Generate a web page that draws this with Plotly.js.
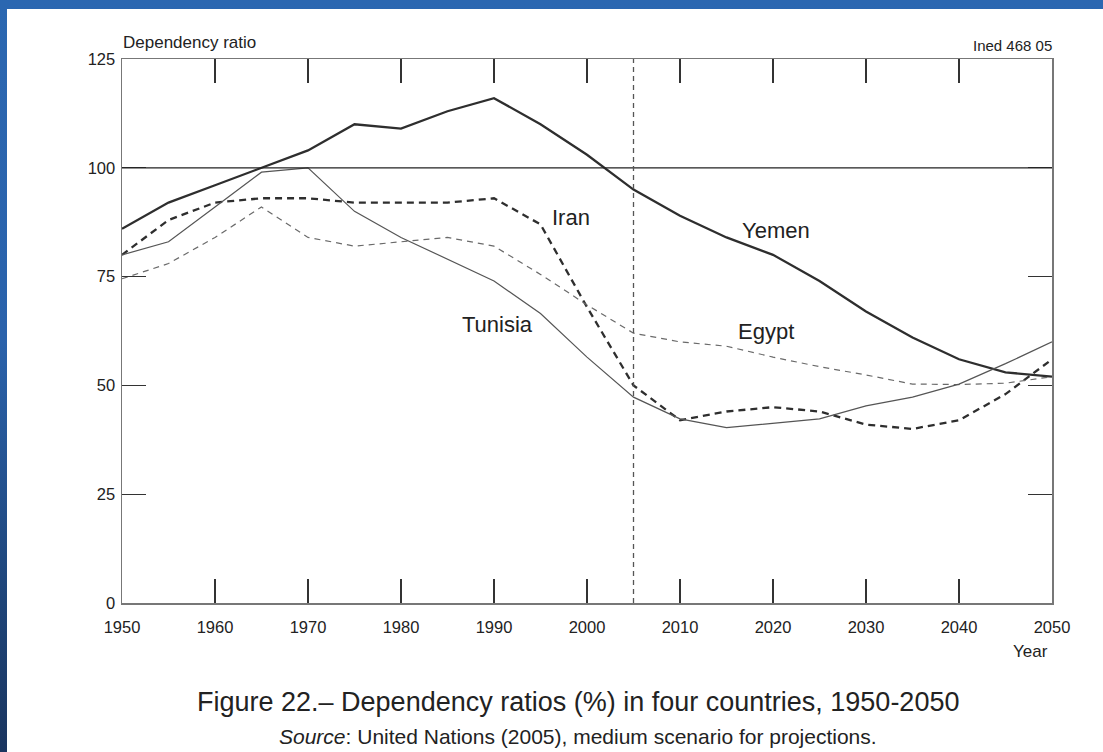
<!DOCTYPE html>
<html>
<head>
<meta charset="utf-8">
<script src="https://cdn.plot.ly/plotly-3.0.1.min.js"></script>
<style>
  html, body { margin: 0; padding: 0; width: 1103px; height: 752px; overflow: hidden; }
  body { background: linear-gradient(to bottom, #2b67b1 0%, #2a62ab 45%, #1e4478 80%, #1a355f 100%); position: relative; }
  #chart { position: absolute; left: 7px; top: 9px; width: 1096px; height: 743px; background: #fff; }
</style>
</head>
<body>
<div id="chart"></div>
<script>
const years = [1950,1955,1960,1965,1970,1975,1980,1985,1990,1995,2000,2005,2010,2015,2020,2025,2030,2035,2040,2045,2050];
const yemen   = [86,92,96,100,104,110,109,113,116,110,103,95,89,84,80,74,67,61,56,53,52];
const iran    = [80,88,92,93,93,92,92,92,93,87,68,50,42,44,45,44,41,40,42,48,56];
const egypt   = [74.5,78,84,91,84,82,83,84,82,75.5,68.5,62,60,59,56.5,54.3,52.4,50.3,50.2,50.5,52];
const tunisia = [80,83,91,99,100,90,84,79,74,66.5,56.5,47.3,42.3,40.3,41.3,42.3,45.3,47.3,50.3,55,60];
const xTicks = [1950,1960,1970,1980,1990,2000,2010,2020,2030,2040,2050];
const yTicks = [0,25,50,75,100,125];
const projectionYear = 2005;
const refLevel = 100;

const FONT = '"Liberation Sans", Arial, Helvetica, sans-serif';

const traces = [
  {x: years, y: yemen, mode: 'lines', name: 'Yemen', line: {color: '#2e2e2e', width: 2.3}},
  {x: years, y: iran, mode: 'lines', name: 'Iran', line: {color: '#2e2e2e', width: 2.3, dash: '7px,5px'}},
  {x: years, y: egypt, mode: 'lines', name: 'Egypt', line: {color: '#6a6a6a', width: 1.2, dash: '6px,5px'}},
  {x: years, y: tunisia, mode: 'lines', name: 'Tunisia', line: {color: '#555', width: 1.2}}
];

const axisCommon = {
  showline: true, linecolor: '#777', linewidth: 1.5, mirror: 'ticks',
  ticks: 'inside', ticklen: 24, tickwidth: 1.3, tickcolor: '#333',
  showgrid: false, zeroline: false, fixedrange: true,
  tickfont: {family: FONT, size: 16.5, color: '#222'}
};

const layout = {
  width: 1096, height: 743,
  margin: {l: 114.7, r: 51.3, t: 50, b: 149},
  paper_bgcolor: '#ffffff', plot_bgcolor: '#ffffff',
  showlegend: false,
  xaxis: Object.assign({}, axisCommon, {range: [1950, 2050], autorange: false, tickvals: xTicks, ticklabelstandoff: 9}),
  yaxis: Object.assign({}, axisCommon, {range: [0, 125], autorange: false, tickvals: yTicks, ticklabelstandoff: 2}),
  shapes: [
    {type: 'line', xref: 'paper', x0: 0, x1: 1, yref: 'y', y0: refLevel, y1: refLevel, line: {color: '#222', width: 1.2}},
    {type: 'line', xref: 'x', x0: projectionYear, x1: projectionYear, yref: 'paper', y0: 0, y1: 1, line: {color: '#555', width: 1.3, dash: '5px,4px'}}
  ],
  annotations: [
    {text: 'Iran', x: 1998.3, y: 88.5, xref: 'x', yref: 'y', showarrow: false, font: {family: FONT, size: 22, color: '#222'}},
    {text: 'Yemen', x: 2020.3, y: 85.5, xref: 'x', yref: 'y', showarrow: false, font: {family: FONT, size: 22, color: '#222'}},
    {text: 'Egypt', x: 2019.2, y: 62.3, xref: 'x', yref: 'y', showarrow: false, font: {family: FONT, size: 22, color: '#222'}},
    {text: 'Tunisia', x: 1990.4, y: 63.9, xref: 'x', yref: 'y', showarrow: false, font: {family: FONT, size: 22, color: '#222'}},
    {text: 'Dependency ratio', x: 0, xanchor: 'left', xshift: -1, y: 1.031, yanchor: 'middle', xref: 'paper', yref: 'paper', showarrow: false, font: {family: FONT, size: 17, color: '#222'}},
    {text: 'Ined 468 05', x: 1, xanchor: 'right', xshift: 2, y: 1.0257, yanchor: 'middle', xref: 'paper', yref: 'paper', showarrow: false, font: {family: FONT, size: 15, color: '#222'}},
    {text: 'Year', x: 0.9774, xanchor: 'center', y: -0.0895, yanchor: 'middle', xref: 'paper', yref: 'paper', showarrow: false, font: {family: FONT, size: 17, color: '#222'}},
    {text: 'Figure 22.– Dependency ratios (%) in four countries, 1950-2050', x: 0.4906, xanchor: 'center', y: -0.1814, yanchor: 'middle', xref: 'paper', yref: 'paper', showarrow: false, font: {family: FONT, size: 27, color: '#222'}},
    {text: '<i>Source</i>: United Nations (2005), medium scenario for projections.', x: 0.4901, xanchor: 'center', y: -0.2458, yanchor: 'middle', xref: 'paper', yref: 'paper', showarrow: false, font: {family: FONT, size: 21, color: '#222'}}
  ]
};

Plotly.newPlot('chart', traces, layout, {displayModeBar: false, staticPlot: true});
</script>
</body>
</html>
